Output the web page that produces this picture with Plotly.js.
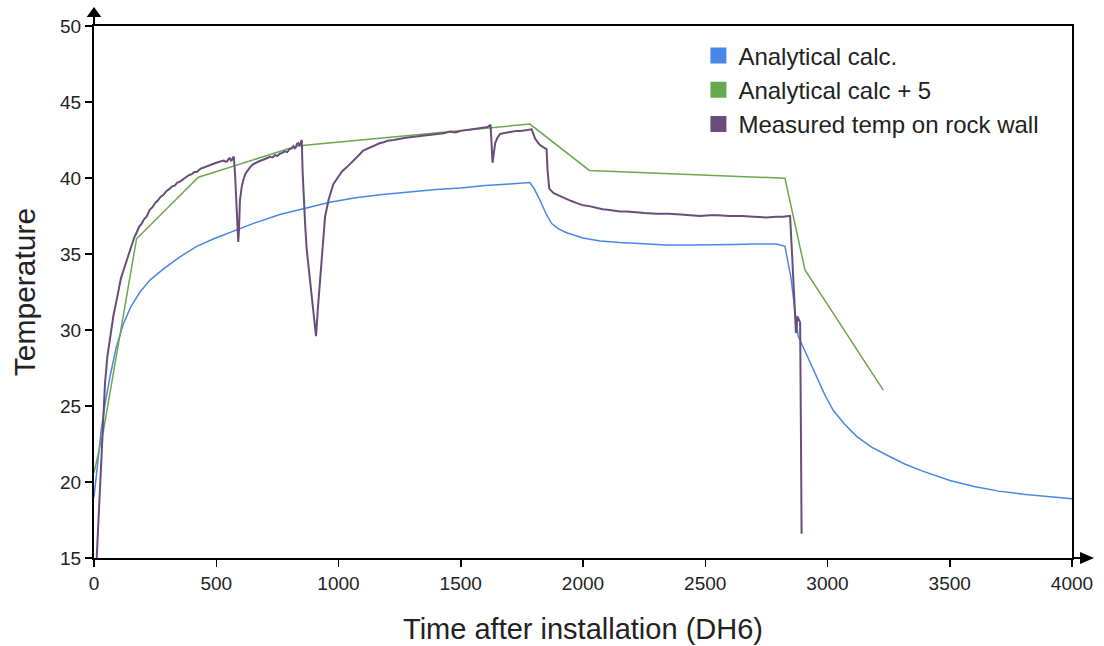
<!DOCTYPE html>
<html>
<head>
<meta charset="utf-8">
<script src="https://cdn.plot.ly/plotly-3.0.1.min.js"></script>
<style>html,body{margin:0;padding:0;background:#fff;}#chart{width:1104px;height:646px;}</style>
</head>
<body>
<div id="chart"></div>
<script>
// ---- Data ----
const seriesNames = ["Analytical calc.", "Analytical calc + 5", "Measured temp on rock wall"];

const calcTime = [0,15,30,45,65,90,120,150,188,230,283,350,420,490,556,650,760,865,965,1070,1170,1300,1400,1500,1600,1700,1783,1800,1824,1850,1872,1900,1933,2000,2070,2150,2250,2342,2450,2550,2615,2700,2792,2826,2850,2880,2920,2956,2990,3024,3070,3119,3180,3256,3320,3392,3450,3501,3600,3700,3800,3900,4000];
const calcTemp = [19.0,21.5,23.5,25.1,26.9,28.8,30.4,31.5,32.5,33.3,34.0,34.8,35.5,36.0,36.4,37.0,37.6,38.0,38.4,38.7,38.9,39.1,39.25,39.35,39.5,39.6,39.7,39.3,38.55,37.6,37.0,36.65,36.4,36.05,35.85,35.75,35.65,35.6,35.6,35.6,35.62,35.65,35.66,35.5,33.5,29.6,28.2,26.9,25.7,24.7,23.8,23.0,22.3,21.66,21.15,20.7,20.4,20.1,19.7,19.4,19.2,19.05,18.9];

const plus5Time = [0,40,174,427,830,1783,2026,2826,2908,3228];
const plus5Temp = [20.6,23.5,36.0,40.05,42.1,43.55,40.5,39.98,33.95,26.05];

const measTime = [11,18,25,35,45,55,65,80,93,110,122,134,145,155,165,174,185,195,205,215,228,240,250,260,272,284,297,310,320,330,341,352,366,380,390,400,410,420,435,450,460,470,480,488,500,510,520,530,538,545,550,555,560,565,568,572,577,581,586,590,593,597,604,611,620,630,638,650,660,675,692,705,720,730,740,750,760,770,780,790,800,808,815,820,825,830,835,840,843,847,850,853,858,864,870,880,890,900,908,916,924,932,945,960,979,1000,1015,1033,1050,1065,1080,1101,1120,1140,1155,1170,1185,1200,1225,1250,1275,1300,1333,1366,1400,1430,1456,1480,1500,1525,1550,1575,1593,1610,1622,1626,1630,1635,1641,1650,1661,1675,1690,1710,1729,1745,1760,1775,1790,1797,1804,1815,1824,1840,1851,1855,1862,1880,1906,1930,1950,1975,2001,2025,2050,2080,2110,2150,2180,2206,2250,2300,2350,2400,2440,2479,2520,2550,2600,2650,2700,2750,2792,2820,2840,2847,2855,2862,2871,2877,2888,2891,2894];
const measTemp = [15.0,17.5,19.9,23.5,26.5,28.3,29.5,31.0,32.0,33.4,34.0,34.6,35.2,35.6,36.1,36.4,36.8,37.0,37.3,37.45,37.9,38.1,38.35,38.5,38.75,38.9,39.15,39.3,39.45,39.5,39.7,39.76,39.95,40.1,40.2,40.25,40.4,40.4,40.6,40.7,40.75,40.85,40.9,40.96,41.0,41.05,41.1,41.15,41.08,41.1,41.25,41.3,41.15,41.2,41.35,41.4,40.2,38.5,36.8,35.8,36.6,38.55,39.4,39.9,40.3,40.55,40.7,40.9,41.0,41.1,41.2,41.3,41.4,41.35,41.5,41.45,41.6,41.65,41.75,41.7,41.9,41.95,42.1,41.95,42.0,42.25,42.3,42.15,42.2,42.4,42.5,40.5,38.5,36.8,35.3,33.8,32.4,30.6,29.6,31.5,33.1,35.0,37.45,38.6,39.6,40.1,40.45,40.7,40.95,41.2,41.45,41.8,41.95,42.1,42.2,42.3,42.35,42.45,42.5,42.6,42.65,42.7,42.76,42.85,42.9,42.95,43.05,43.0,43.1,43.15,43.2,43.25,43.3,43.35,43.5,42.3,41.0,41.6,42.3,42.65,42.9,42.95,43.0,43.05,43.1,43.1,43.15,43.2,43.2,42.9,42.6,42.35,42.17,42.0,41.9,40.5,39.3,39.0,38.8,38.65,38.5,38.35,38.2,38.15,38.05,37.95,37.9,37.8,37.8,37.75,37.7,37.65,37.65,37.6,37.55,37.5,37.55,37.55,37.5,37.5,37.45,37.4,37.45,37.45,37.5,37.5,35.0,32.5,29.8,30.9,30.5,24.0,16.6];

const xTicks = [0,500,1000,1500,2000,2500,3000,3500,4000];
const yTicks = [15,20,25,30,35,40,45,50];

const colors = ["#4a86e8", "#6aa84f", "#674e7a"];

const lineTraces = [
  {x: calcTime, y: calcTemp, color: colors[0], w: 1.5},
  {x: plus5Time, y: plus5Temp, color: colors[1], w: 1.5},
  {x: measTime, y: measTemp, color: colors[2], w: 2}
].map(s => ({
  type: "scatter", mode: "lines", x: s.x, y: s.y,
  line: {color: s.color, width: s.w}, showlegend: false, hoverinfo: "skip"
}));

const legendTraces = seriesNames.map((n, i) => ({
  type: "scatter", mode: "markers", x: [null], y: [null], name: n,
  marker: {symbol: "square", size: 16, color: colors[i]}, showlegend: true
}));

const F = "Arial, 'Liberation Sans', sans-serif";

const layout = {
  width: 1104, height: 646,
  margin: {l: 94, r: 32, t: 26, b: 88},
  paper_bgcolor: "#fff", plot_bgcolor: "#fff",
  font: {family: F, color: "#222"},
  showlegend: true,
  legend: {x: 0.618, y: 0.986, xanchor: "left", yanchor: "top",
           font: {family: F, size: 24, color: "#222"}, bgcolor: "rgba(0,0,0,0)", itemclick: false},
  xaxis: {range: [0, 4000], tickvals: xTicks, ticktext: xTicks.map(String),
          showgrid: false, zeroline: false, showline: true, linecolor: "#000", linewidth: 2, mirror: true,
          ticks: "outside", ticklen: 7, tickwidth: 1.5, tickcolor: "#000",
          tickfont: {family: F, size: 19, color: "#222"},
          title: {text: "Time after installation (DH6)", font: {family: F, size: 29, color: "#222"}, standoff: 26}},
  yaxis: {range: [15, 50], tickvals: yTicks, ticktext: yTicks.map(String),
          showgrid: false, zeroline: false, showline: true, linecolor: "#000", linewidth: 2, mirror: true,
          ticks: "outside", ticklen: 7, tickwidth: 1.5, tickcolor: "#000",
          tickfont: {family: F, size: 19, color: "#222"},
          title: {text: "Temperature", font: {family: F, size: 30, color: "#222"}, standoff: 16}},
  shapes: [
    {type: "line", xref: "paper", yref: "paper", x0: 0, x1: 0, y0: 1, y1: 1.018, line: {color: "#000", width: 2}},
    {type: "path", xref: "paper", yref: "paper", path: "M -0.0075 1.0169 L 0.0075 1.0169 L 0 1.0357 Z", fillcolor: "#000", line: {width: 0}},
    {type: "line", xref: "paper", yref: "paper", x0: 1, x1: 1.009, y0: 0, y1: 0, line: {color: "#000", width: 2}},
    {type: "path", xref: "paper", yref: "paper", path: "M 1.0082 -0.0115 L 1.0082 0.0115 L 1.0225 0 Z", fillcolor: "#000", line: {width: 0}}
  ],
  hovermode: false
};

Plotly.newPlot("chart", lineTraces.concat(legendTraces), layout, {displayModeBar: false, staticPlot: true});
</script>
</body>
</html>
